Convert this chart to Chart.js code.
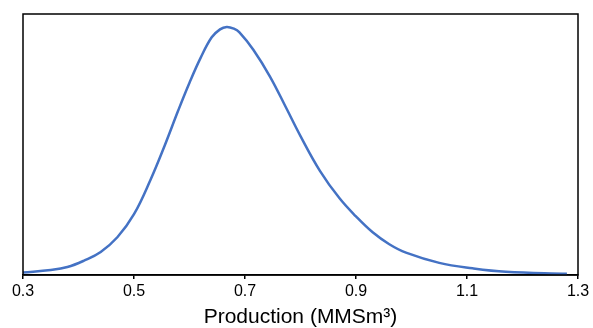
<!DOCTYPE html>
<html>
<head>
<meta charset="utf-8">
<script src="https://cdn.jsdelivr.net/npm/chart.js@4"></script>
<style>
html,body{margin:0;padding:0;background:#fff;}
canvas{display:block;}
</style>
</head>
<body>
<canvas id="c" width="593" height="328"></canvas>
<script>
// Data (normalized density, peak = 1)
const production = [0.30, 0.35, 0.38, 0.41, 0.44, 0.47, 0.50, 0.53, 0.555, 0.58, 0.60, 0.62, 0.64, 0.655, 0.667, 0.68, 0.69, 0.715, 0.745, 0.775, 0.80, 0.835, 0.87, 0.90, 0.93, 0.96, 0.99, 1.05, 1.11, 1.17, 1.28];
const density    = [0.010, 0.020, 0.032, 0.058, 0.093, 0.152, 0.245, 0.385, 0.520, 0.665, 0.775, 0.875, 0.958, 0.990, 1.000, 0.993, 0.978, 0.908, 0.800, 0.670, 0.560, 0.420, 0.310, 0.236, 0.172, 0.124, 0.090, 0.049, 0.027, 0.013, 0.005];
const tickValues = [0.3, 0.5, 0.7, 0.9, 1.1, 1.3];
const xTitle = 'Production (MMSm³)';

const FONT = '"Liberation Sans", Arial, Helvetica, sans-serif';

const frame = {
  id: 'frame',
  afterDraw(chart) {
    const a = chart.chartArea, ctx = chart.ctx;
    ctx.save();
    ctx.strokeStyle = '#000';
    ctx.lineWidth = 1.5;
    ctx.strokeRect(a.left, a.top, a.right - a.left, a.bottom - a.top);
    ctx.restore();
  }
};

new Chart(document.getElementById('c'), {
  type: 'line',
  data: {
    datasets: [{
      data: production.map((x, i) => ({x: x, y: density[i]})),
      borderColor: '#4472C4',
      borderWidth: 2.5,
      pointRadius: 0,
      fill: false,
      tension: 0.4
    }]
  },
  options: {
    responsive: false,
    animation: false,
    layout: {padding: {left: 23, right: 15, top: 14, bottom: 0}},
    plugins: {legend: {display: false}, tooltip: {enabled: false}},
    scales: {
      x: {
        type: 'linear',
        min: 0.3,
        max: 1.3,
        afterBuildTicks: (s) => { s.ticks = tickValues.map(v => ({value: v})); },
        afterFit: (s) => { s.height = 53; },
        ticks: {
          color: '#000',
          font: {family: FONT, size: 16},
          padding: 3,
          maxRotation: 0,
          autoSkip: false,
          callback: (v) => Number(v).toFixed(1)
        },
        grid: {display: true, drawOnChartArea: false, drawTicks: true, tickLength: 4, color: '#000', lineWidth: 1.5},
        border: {display: true, color: '#000', width: 1.5},
        title: {
          display: true,
          text: xTitle,
          color: '#000',
          font: {family: FONT, size: 21, lineHeight: 1},
          padding: {top: 0, bottom: 0}
        }
      },
      y: {
        display: false,
        min: 0,
        max: 1.052
      }
    }
  },
  plugins: [frame]
});
</script>
</body>
</html>
